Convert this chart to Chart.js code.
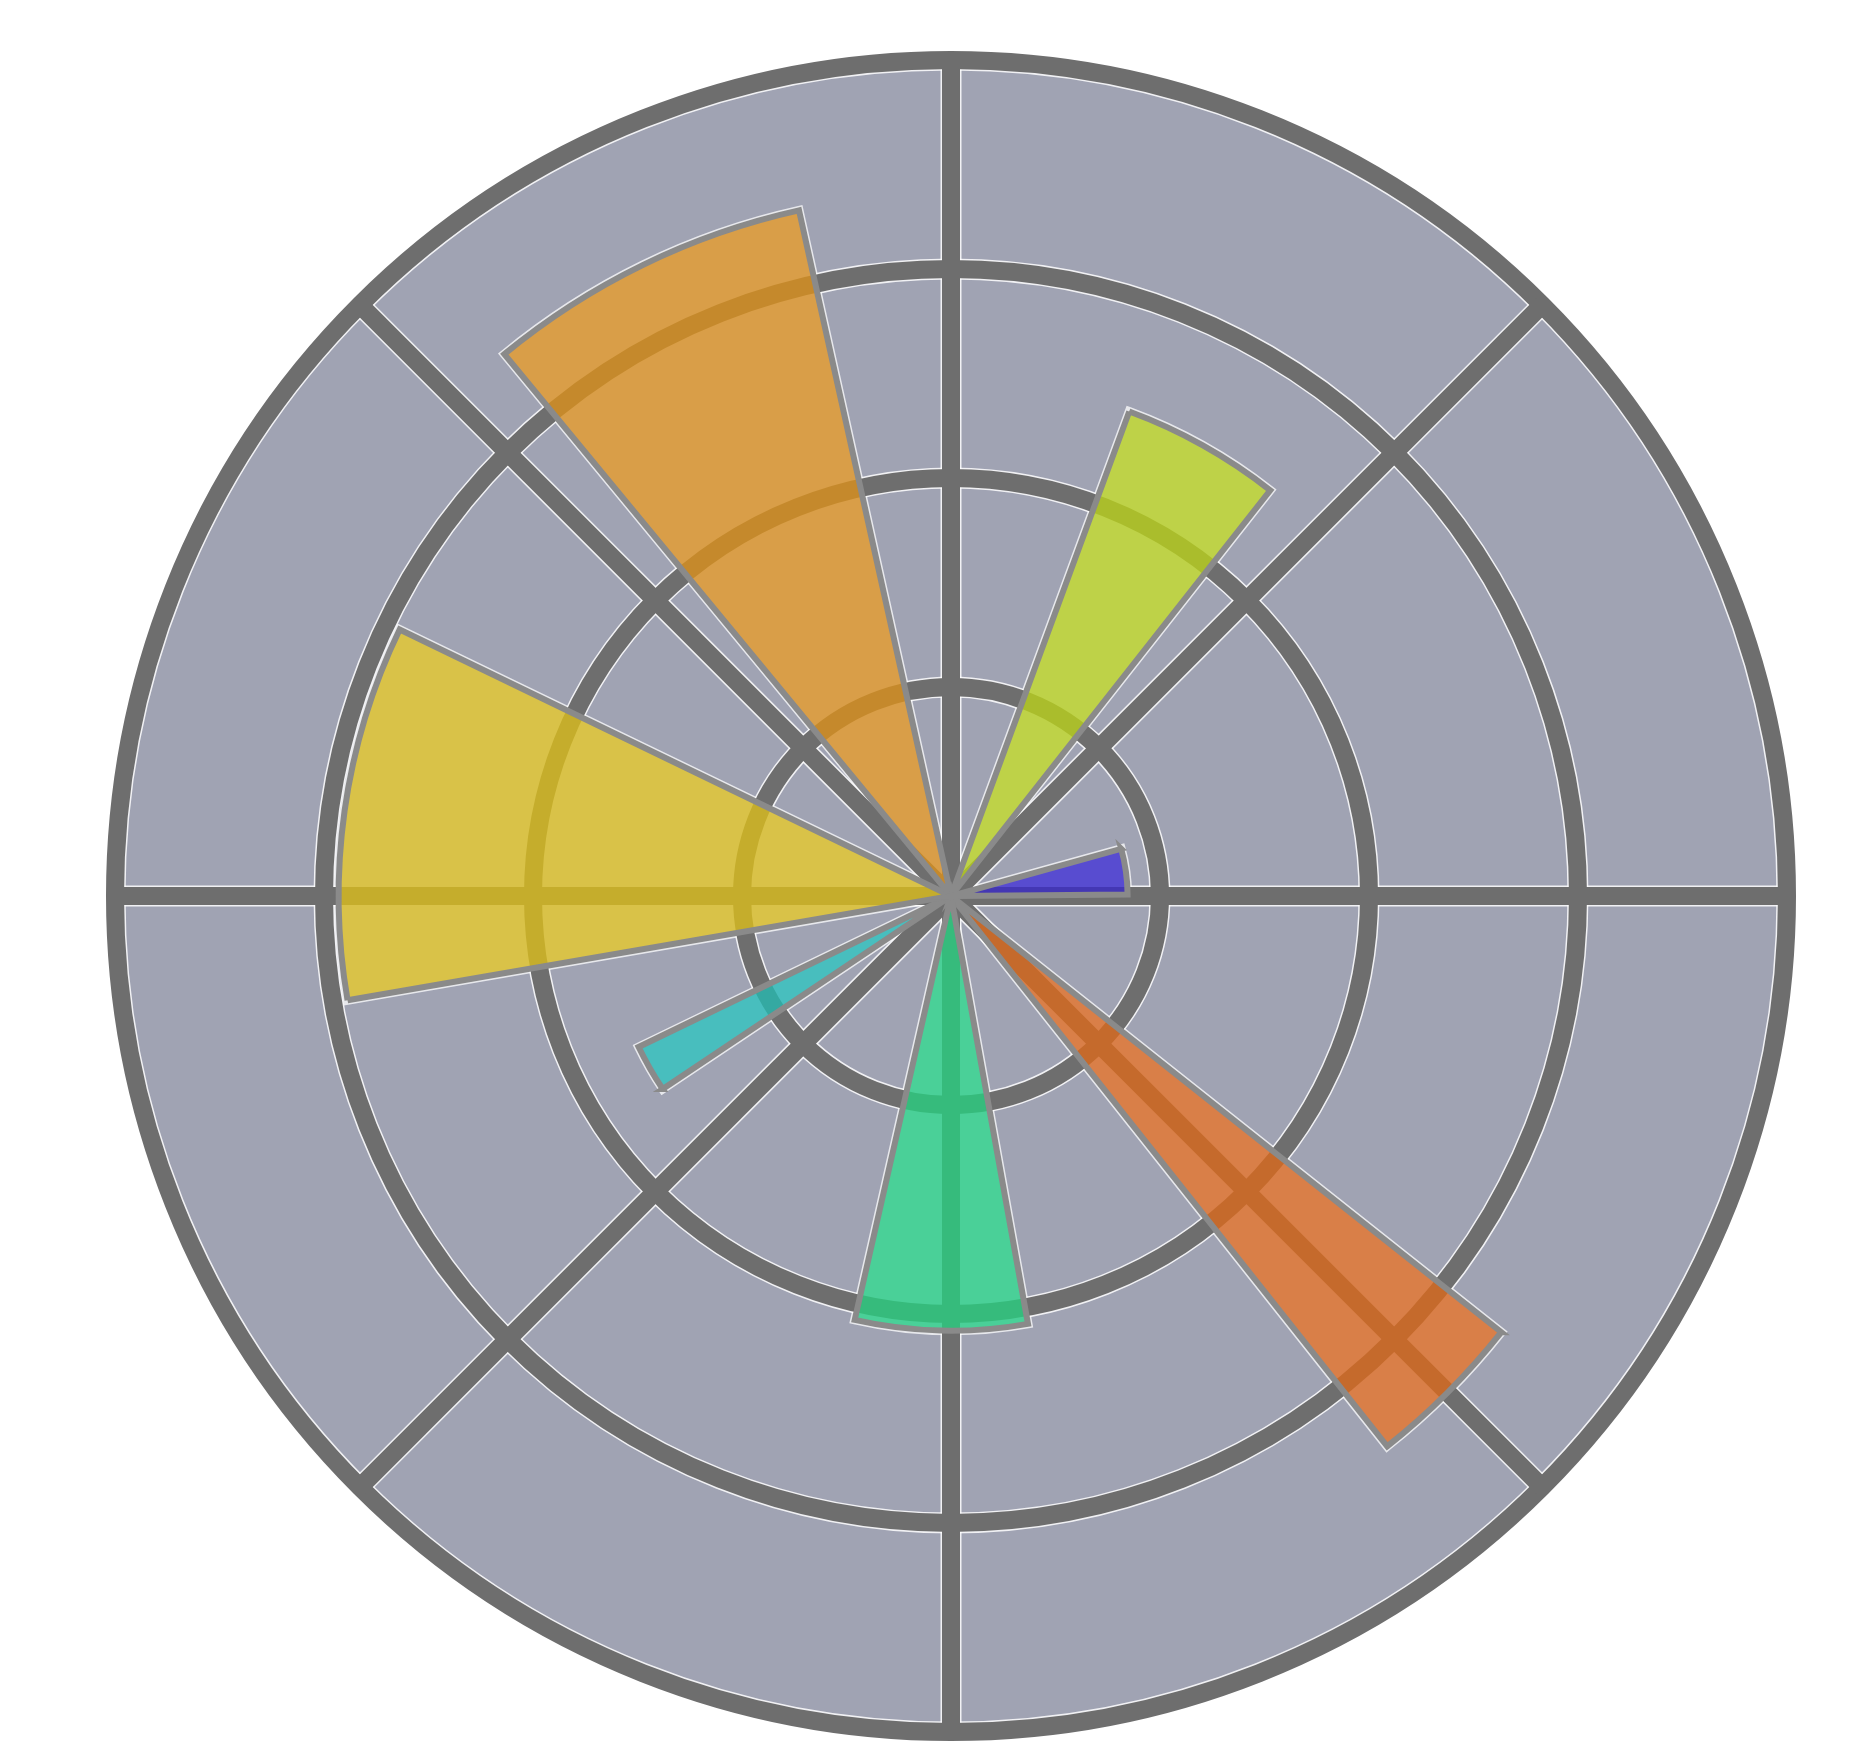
<!DOCTYPE html>
<html>
<head>
<meta charset="utf-8">
<script src="https://cdn.jsdelivr.net/npm/chart.js@4.4.1/dist/chart.umd.min.js"></script>
<style>
  html, body { margin: 0; padding: 0; background: #fff; }
  #wrap { width: 1866px; height: 1749px; position: relative; }
</style>
</head>
<body>
<div id="wrap"><canvas id="chart"></canvas></div>
<script>
// polar bars: start angle (deg, counter-clockwise from east), width (deg), radius
const barNames = ['bar1', 'bar2', 'bar3', 'bar4', 'bar5', 'bar6', 'bar7'];
const barTheta = [0.5, 51.8, 102.5, 154.2, 205.8, 257.2, 308.4];
const barWidth = [15, 18, 27, 35.6, 8, 23, 13.2];
const barRadius = [1.69, 4.94, 6.72, 5.86, 3.32, 4.16, 6.72];
const barColors = [
  'rgba(40, 18, 227, 0.6)',
  'rgba(210, 241, 0, 0.6)',
  'rgba(255, 155, 0, 0.6)',
  'rgba(255, 215, 0, 0.6)',
  'rgba(13, 208, 197, 0.6)',
  'rgba(17, 238, 134, 0.6)',
  'rgba(255, 103, 0, 0.6)',
];
const rTicks = [2, 4, 6, 8];
const spokeAngles = [0, 45, 90, 135, 180, 225, 270, 315];

// polarArea lays its arcs one after another clockwise, so turn the bars
// into a run of segments (bars + empty gaps) starting at east
const bars = barTheta
  .map((t, i) => ({ start: 360 - (t + barWidth[i]), end: 360 - t, i }))
  .sort((a, b) => a.start - b.start);

const segLabels = [];
const segValues = [];
const segAngles = [];
const segFill = [];
const segBorder = [];
let pos = 0;

function pushGap(to) {
  if (to - pos > 0.01) {
    segLabels.push('');
    segValues.push(0);
    segAngles.push(to - pos);
    segFill.push('rgba(0,0,0,0)');
    segBorder.push(0);
  }
  pos = to;
}

bars.forEach(b => {
  pushGap(b.start);
  segLabels.push(barNames[b.i]);
  segValues.push(barRadius[b.i]);
  segAngles.push(b.end - b.start);
  segFill.push(barColors[b.i]);
  segBorder.push(6);
  pos = b.end;
});
pushGap(360);

// rings and spokes; the thin light edges are kept out of the bars
const polarGrid = {
  id: 'polarGrid',
  beforeDatasetsDraw(chart) {
    const scale = chart.scales.r;
    const ctx = chart.ctx;
    const cx = scale.xCenter;
    const cy = scale.yCenter;
    const R = scale.drawingArea;
    const arcs = chart.getDatasetMeta(0).data.filter(a => a.outerRadius > 0);

    const strokeGrid = (width, color) => {
      ctx.lineWidth = width;
      ctx.strokeStyle = color;
      rTicks.forEach(v => {
        ctx.beginPath();
        ctx.arc(cx, cy, scale.getDistanceFromCenterForValue(v), 0, Math.PI * 2);
        ctx.stroke();
      });
      spokeAngles.forEach(a => {
        const t = -a * Math.PI / 180;
        ctx.beginPath();
        ctx.moveTo(cx, cy);
        ctx.lineTo(cx + R * Math.cos(t), cy + R * Math.sin(t));
        ctx.stroke();
      });
    };

    ctx.save();
    ctx.beginPath();
    ctx.rect(0, 0, chart.width, chart.height);
    arcs.forEach(a => {
      ctx.moveTo(a.x, a.y);
      ctx.arc(a.x, a.y, a.outerRadius, a.startAngle, a.endAngle);
      ctx.closePath();
    });
    ctx.clip('evenodd');

    strokeGrid(21, 'rgba(255, 255, 255, 0.85)');
    ctx.lineWidth = 9;
    ctx.lineJoin = 'miter';
    ctx.strokeStyle = 'rgba(255, 255, 255, 0.75)';
    arcs.forEach(a => {
      ctx.beginPath();
      ctx.moveTo(a.x, a.y);
      ctx.arc(a.x, a.y, a.outerRadius, a.startAngle, a.endAngle);
      ctx.closePath();
      ctx.stroke();
    });
    ctx.restore();

    ctx.save();
    strokeGrid(18, '#6e6e6e');
    ctx.restore();
  }
};

new Chart(document.getElementById('chart'), {
  type: 'polarArea',
  data: {
    labels: segLabels,
    datasets: [{
      data: segValues,
      backgroundColor: segFill,
      borderColor: '#8a8a8a',
      borderWidth: segBorder,
      borderJoinStyle: 'miter',
      angle: ctx => segAngles[ctx.dataIndex],
    }]
  },
  options: {
    responsive: true,
    maintainAspectRatio: false,
    animation: false,
    events: [],
    layout: { padding: { left: 115, right: 79, top: 60, bottom: 17 } },
    plugins: {
      legend: { display: false },
      tooltip: { enabled: false },
    },
    scales: {
      r: {
        min: 0,
        max: 8,
        startAngle: 90,
        backgroundColor: '#a0a3b3',
        ticks: { display: false, stepSize: 2 },
        grid: { display: false },
        angleLines: { display: false },
        pointLabels: { display: false },
      }
    }
  },
  plugins: [polarGrid]
});
</script>
</body>
</html>
